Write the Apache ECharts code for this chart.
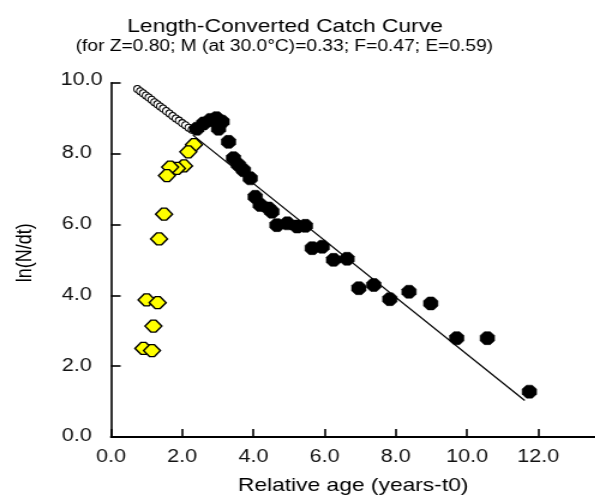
<!DOCTYPE html>
<html>
<head>
<meta charset="utf-8">
<script src="https://cdn.jsdelivr.net/npm/echarts@6/dist/echarts.min.js"></script>
<style>
html,body{margin:0;padding:0;background:#fff;}
#wrap{width:595px;height:495px;overflow:hidden;position:relative;}
#c{width:496px;height:495px;transform:scaleX(1.2);transform-origin:0 0;}
</style>
</head>
<body>
<div id="wrap"><div id="c"></div></div>
<script>
// ---- data ----
const titleText = 'Length-Converted Catch Curve';
const subText = '(for Z=0.80; M (at 30.0\u00B0C)=0.33; F=0.47; E=0.59)';
const xName = 'Relative age (years-t0)';
const yName = 'ln(N/dt)';
const xTicks = [0, 2, 4, 6, 8, 10, 12];
const yTicks = [0, 2, 4, 6, 8, 10];

// selected points (black)
const blackX = [2.41, 2.60, 2.79, 2.96, 3.12, 3.02, 3.30, 3.44, 3.58, 3.72, 3.91, 4.05, 4.19, 4.43, 4.52,
                4.66, 4.95, 5.23, 5.46, 5.65, 5.93, 6.25, 6.63, 6.96, 7.38, 7.83, 8.37, 8.98, 9.71, 10.57, 11.75];
const blackY = [8.70, 8.85, 8.95, 9.00, 8.90, 8.70, 8.33, 7.87, 7.68, 7.53, 7.30, 6.78, 6.55, 6.45, 6.36,
                5.98, 6.03, 5.94, 5.96, 5.33, 5.37, 5.00, 5.03, 4.20, 4.29, 3.89, 4.10, 3.77, 2.79, 2.79, 1.28];

// observed points of the ascending part (yellow)
const yellowX = [2.33, 2.17, 2.05, 1.85, 1.66, 1.57, 1.49, 1.35, 1.00, 1.31, 1.19, 0.91, 1.15];
const yellowY = [8.25, 8.05, 7.65, 7.58, 7.62, 7.38, 6.29, 5.59, 3.87, 3.79, 3.13, 2.50, 2.44];

// expected points (open)
const openX = [0.74, 0.82, 0.90, 0.98, 1.06, 1.14, 1.22, 1.30, 1.38, 1.46, 1.55, 1.64, 1.73, 1.82, 1.91, 2.00, 2.09, 2.18, 2.27];
const openY = [9.82, 9.76, 9.70, 9.64, 9.58, 9.52, 9.45, 9.39, 9.33, 9.27, 9.20, 9.13, 9.06, 8.99, 8.93, 8.86, 8.80, 8.73, 8.67];

// regression line end points
const lineX = [2.30, 11.62];
const lineY = [8.52, 1.03];

const zip = (a, b) => a.map((v, i) => [v, b[i]]);
const FONT = "'Liberation Sans', Arial, Helvetica, sans-serif";

const chart = echarts.init(document.getElementById('c'), null, {renderer: 'canvas'});
chart.setOption({
  animation: false,
  backgroundColor: '#ffffff',
  title: [
    {text: titleText, left: 101, top: 12,
     textStyle: {fontFamily: FONT, fontSize: 19, fontWeight: 'normal', color: '#000'}},
    {text: subText, left: 58, top: 34,
     textStyle: {fontFamily: FONT, fontSize: 16, fontWeight: 'normal', color: '#000'}}
  ],
  grid: {left: 92.5, right: 0, top: 82.7, bottom: 58, containLabel: false, outerBoundsMode: 'none'},
  xAxis: {
    type: 'value', min: 0, max: 13.6,
    name: xName, nameLocation: 'middle', nameGap: 39,
    nameTextStyle: {fontFamily: FONT, fontSize: 19, color: '#000'},
    axisLine: {show: true, onZero: false, lineStyle: {color: '#000', width: 1.8}},
    axisTick: {show: true, inside: true, length: 8, customValues: xTicks, lineStyle: {color: '#000', width: 1.6}},
    axisLabel: {show: true, customValues: xTicks, margin: 11, fontFamily: FONT, fontSize: 18, color: '#111',
                formatter: v => v.toFixed(1)},
    splitLine: {show: false}
  },
  yAxis: {
    type: 'value', min: 0, max: 10, interval: 2,
    name: yName, nameLocation: 'middle', nameGap: 62, nameRotate: 90,
    nameTextStyle: {fontFamily: FONT, fontSize: 18, color: '#000', padding: [0, 0, 0, 14]},
    axisLine: {show: true, onZero: false, lineStyle: {color: '#000', width: 1.6}},
    axisTick: {show: true, inside: true, length: 8, customValues: yTicks, lineStyle: {color: '#000', width: 1.6}},
    axisLabel: {show: true, customValues: yTicks, margin: 7, fontFamily: FONT, fontSize: 18, color: '#111',
                formatter: v => (v === 10 ? '{t|' : '{n|') + v.toFixed(1) + '}',
                rich: {
                  n: {fontFamily: FONT, fontSize: 18, color: '#111', padding: [0, 9, 1, 0]},
                  t: {fontFamily: FONT, fontSize: 18, color: '#111', padding: [0, 0, 6, 0]}
                }},
    splitLine: {show: false}
  },
  series: [
    {type: 'line', data: zip(lineX, lineY), symbol: 'none', silent: true,
     lineStyle: {color: '#000', width: 1.2}, z: 1},
    {type: 'scatter', data: zip(openX, openY), symbol: 'circle', symbolSize: [6, 7],
     itemStyle: {color: '#fff', borderColor: '#000', borderWidth: 1, opacity: 1}, z: 2},
    {type: 'scatter', data: zip(yellowX, yellowY),
     symbol: 'path://M0,6 L5,1 L9,1 L14,6 L9,11 L5,11 Z', symbolSize: [14, 12], symbolKeepAspect: false,
     itemStyle: {color: '#ffff00', borderColor: '#000', borderWidth: 1.4, opacity: 1}, z: 3},
    {type: 'scatter', data: zip(blackX, blackY),
     symbol: 'path://M3,0 L7,0 L10,3 L10,7 L7,10 L3,10 L0,7 L0,3 Z', symbolSize: [12, 13], symbolKeepAspect: false,
     itemStyle: {color: '#000', borderColor: '#000', borderWidth: 0.5, opacity: 1}, z: 4}
  ]
});
</script>
</body>
</html>
